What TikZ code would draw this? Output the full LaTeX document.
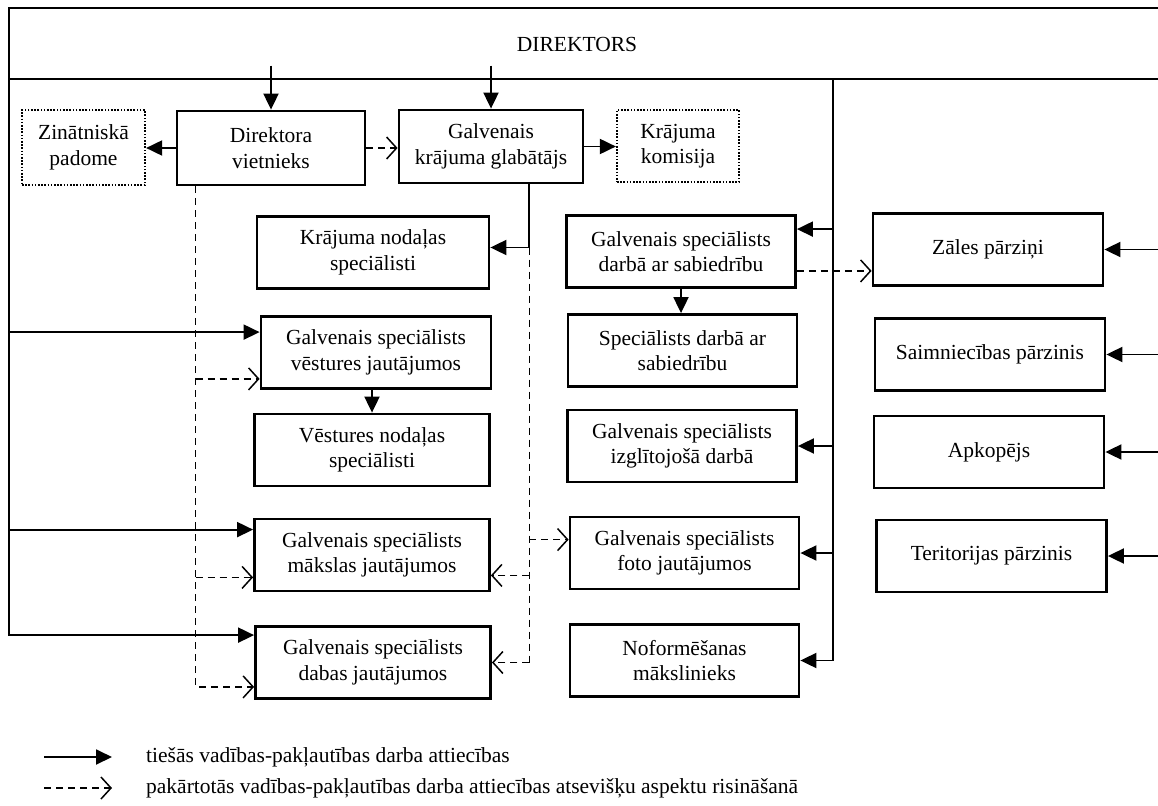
\documentclass[tikz,border=0pt]{standalone}
\usepackage{fontspec}
\setmainfont{Liberation Serif}
\usetikzlibrary{arrows.meta,calc}
\begin{document}
\begin{tikzpicture}[x=1pt,y=-1pt,
  font=\fontsize{21.5}{25.5}\selectfont,
  box/.style={draw, line width=2.8pt, align=center, inner sep=0pt, minimum height=72pt},
  dotbox/.style={draw, line width=2.2pt, dash pattern=on 1.6pt off 1.6pt, align=center, inner sep=0pt},
  conn/.style={line width=1.9pt},
  arr/.style={conn, -{Triangle[length=16pt,width=15pt]}},
  dline/.style={line width=1.6pt, dash pattern=on 7pt off 5pt},
  darr/.style={dline, -{Straight Barb[length=10pt,width=22pt,line width=1.5pt]}},
  band/.style={line width=2.8pt}]
\fill[white] (0,0) rectangle (1158,805);
\useasboundingbox (0,0) rectangle (1158,805);

% director band
\node (dir) at (577,44) {DIREKTORS};
\draw[band] (1158,8) -- (9,8) -- (9,79) -- (1158,79);

% first row
\node[box, minimum width=188pt, minimum height=74pt] (dvn) at (271,148) {Direktora\\vietnieks};
\node[box, minimum width=184pt, minimum height=73pt] (gkg) at (491,146.5) {Galvenais\\krājuma glabātājs};
\node[dotbox, minimum width=123pt, minimum height=75pt] (zp) at (83.5,147.5) {Zinātniskā\\padome};
\node[dotbox, minimum width=122pt, minimum height=72pt] (kk) at (678,146) {Krājuma\\komisija};

% middle column
\node[box, minimum width=232pt] (kns) at (373,252.5) {Krājuma nodaļas\\speciālisti};
\node[box, minimum width=230pt] (gsv) at (376,352.5) {Galvenais speciālists\\vēstures jautājumos};
\node[box, minimum width=235pt] (vns) at (372,450) {Vēstures nodaļas\\speciālisti};
\node[box, minimum width=235pt] (gsm) at (372,555) {Galvenais speciālists\\mākslas jautājumos};
\node[box, minimum width=235pt] (gsd) at (373,662.5) {Galvenais speciālists\\dabas jautājumos};

% right-middle column
\node[box, minimum width=229pt] (gsds) at (681,251.5) {Galvenais speciālists\\darbā ar sabiedrību};
\node[box, minimum width=229pt] (sds) at (682.5,350.5) {Speciālists darbā ar\\sabiedrību};
\node[box, minimum width=229pt] (gsi) at (682,446) {Galvenais speciālists\\izglītojošā darbā};
\node[box, minimum width=229pt] (gsf) at (684.5,553) {Galvenais speciālists\\foto jautājumos};
\node[box, minimum width=229pt] (nm) at (684.5,660.5) {Noformēšanas\\mākslinieks};

% right column
\node[box, minimum width=230pt] (zal) at (988,249.5) {Zāles pārziņi};
\node[box, minimum width=230pt] (sai) at (990,354.5) {Saimniecības pārzinis};
\node[box, minimum width=230pt] (apk) at (989,452) {Apkopējs};
\node[box, minimum width=230pt] (ter) at (991.5,556) {Teritorijas pārzinis};

% top arrows
\draw[arr] ([yshift=44pt]dvn.north) -- (dvn.north);
\draw[arr] ([yshift=43pt]gkg.north) -- (gkg.north);
\draw[arr] (dvn.west) -- (dvn.west -| zp.east);
\draw[darr] (dvn.east) -- (dvn.east -| gkg.west);
\draw[arr] (gkg.east) -- (gkg.east -| kk.west);

% left bus
\coordinate (lb) at (9,79);
\path ([yshift=-17pt]gsv.north west) coordinate (gsvL)
      ([yshift=-12pt]gsm.north west) coordinate (gsmL)
      ([yshift=-10pt]gsd.north west) coordinate (gsdL);
\draw[arr] (lb) |- (gsdL);
\draw[arr] (lb |- gsvL) -- (gsvL);
\draw[arr] (lb |- gsmL) -- (gsmL);
\draw[arr] (gsv.south -| vns.north) -- (vns.north);

% dashed from deputy
\coordinate (dv) at ([xshift=20pt]dvn.south west);
\path ([yshift=11pt]gsv.south west) coordinate (gsvD)
      ([yshift=15pt]gsm.south west) coordinate (gsmD)
      ([yshift=13pt]gsd.south west) coordinate (gsdD);
\draw[darr] (dv) |- (gsdD);
\draw[darr] (dv |- gsvD) -- (gsvD);
\draw[darr] (dv |- gsmD) -- (gsmD);

% from chief keeper
\coordinate (gk) at ([xshift=-55pt]gkg.south east);
\path ([yshift=5pt]kns.east) coordinate (knsE);
\draw[arr] (gk) |- (knsE);
\coordinate (gj) at (gk |- knsE);
\draw[dline] (gj) -- (gj |- gsd.east);
\path ([yshift=-24pt]gsf.north west) coordinate (gsfD)
      ([yshift=17pt]gsm.south east) coordinate (gsmE);
\draw[darr] (gj |- gsfD) -- (gsfD);
\draw[darr] (gj |- gsmE) -- (gsmE);
\draw[darr] (gj |- gsd.east) -- (gsd.east);

% right bus
\coordinate (rb) at (833,79);
\path ([yshift=-15pt]gsds.north east) coordinate (gsdsE);
\draw[arr] (rb) |- (nm.east);
\draw[arr] (rb |- gsdsE) -- (gsdsE);
\draw[arr] (rb |- gsi.east) -- (gsi.east);
\draw[arr] (rb |- gsf.east) -- (gsf.east);
\draw[arr] (gsds.south) -- (gsds.south |- sds.north);
\path ([yshift=18pt]gsds.south east) coordinate (gsdsZ);
\draw[darr] (gsdsZ) -- (gsdsZ -| zal.west);

% from right edge
\coordinate (R) at (1158,0);
\draw[arr] (R |- zal.east) -- (zal.east);
\draw[arr] (R |- sai.east) -- (sai.east);
\draw[arr] (R |- apk.east) -- (apk.east);
\draw[arr] (R |- ter.east) -- (ter.east);

% legend
\coordinate (l1a) at (44,757);
\coordinate (l1b) at (112,757);
\coordinate (l2a) at (44,788);
\coordinate (l2b) at (112,788);
\draw[arr] (l1a) -- (l1b);
\draw[darr] (l2a) -- (l2b);
\node[anchor=west, inner sep=0pt] (l1t) at (146,757) {tiešās vadības-pakļautības darba attiecības};
\node[anchor=west, inner sep=0pt] (l2t) at (146,788) {pakārtotās vadības-pakļautības darba attiecības atsevišķu aspektu risināšanā};
\end{tikzpicture}
\end{document}
